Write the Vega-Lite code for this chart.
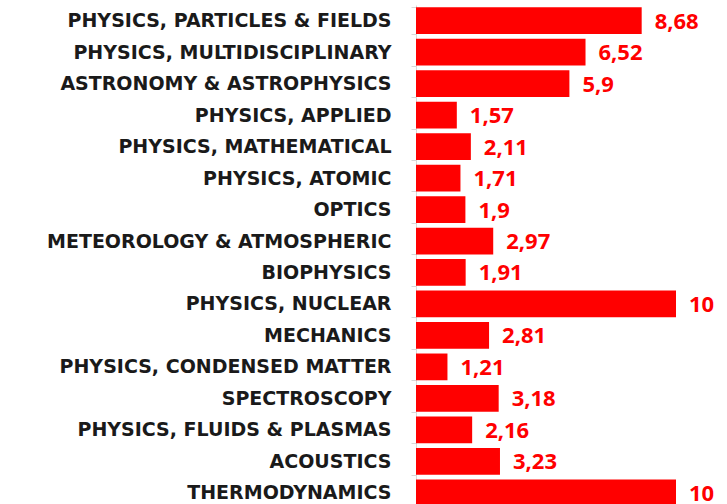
{
  "$schema": "https://vega.github.io/schema/vega-lite/v6.json",
  "autosize": "none",
  "width": 260,
  "height": 503.5,
  "padding": {"left": 416, "top": 5, "right": 51, "bottom": 0},
  "background": "white",
  "config": {
    "view": {"stroke": null},
    "locale": {"number": {"decimal": ",", "thousands": ".", "grouping": [3], "currency": ["", " €"]}}
  },
  "data": {"values": [
    {"category": "PHYSICS, PARTICLES & FIELDS", "value": 8.68},
    {"category": "PHYSICS, MULTIDISCIPLINARY", "value": 6.52},
    {"category": "ASTRONOMY & ASTROPHYSICS", "value": 5.9},
    {"category": "PHYSICS, APPLIED", "value": 1.57},
    {"category": "PHYSICS, MATHEMATICAL", "value": 2.11},
    {"category": "PHYSICS, ATOMIC", "value": 1.71},
    {"category": "OPTICS", "value": 1.9},
    {"category": "METEOROLOGY & ATMOSPHERIC ", "value": 2.97},
    {"category": "BIOPHYSICS", "value": 1.91},
    {"category": "PHYSICS, NUCLEAR", "value": 10},
    {"category": "MECHANICS", "value": 2.81},
    {"category": "PHYSICS, CONDENSED MATTER", "value": 1.21},
    {"category": "SPECTROSCOPY", "value": 3.18},
    {"category": "PHYSICS, FLUIDS & PLASMAS", "value": 2.16},
    {"category": "ACOUSTICS", "value": 3.23},
    {"category": "THERMODYNAMICS", "value": 10}
  ]},
  "encoding": {
    "y": {
      "field": "category", "type": "nominal", "sort": null,
      "scale": {"paddingInner": 0.15, "paddingOuter": 0.075},
      "axis": {
        "title": null,
        "domainColor": "#d9d9d9",
        "tickColor": "#d9d9d9",
        "tickBand": "extent",
        "tickSize": 5,
        "labelPadding": 20,
        "labelLimit": 500,
        "labelFont": "DejaVu Sans",
        "labelFontWeight": "bold",
        "labelFontSize": 19,
        "labelColor": "#1a1a1a"
      }
    },
    "x": {
      "field": "value", "type": "quantitative",
      "scale": {"domain": [0, 10], "nice": false},
      "axis": null
    }
  },
  "layer": [
    {"mark": {"type": "bar", "color": "#ff0000"}},
    {
      "mark": {"type": "text", "align": "left", "dx": 13, "dy": 1, "font": "Open Sans", "fontWeight": "bold", "fontSize": 22, "color": "#ff0000"},
      "encoding": {"text": {"field": "value", "type": "quantitative", "format": ".3~r"}}
    }
  ]
}
